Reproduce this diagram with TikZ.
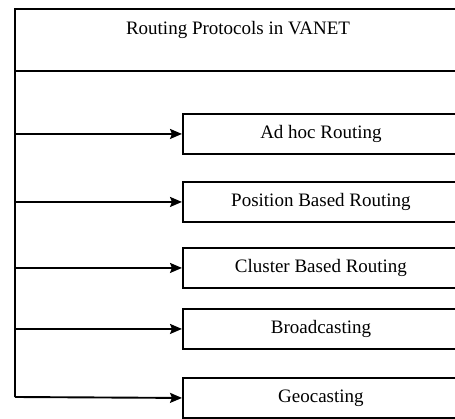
\documentclass[tikz,border=0pt]{standalone}
\usepackage{fontspec}
\setmainfont{Liberation Serif}
\usetikzlibrary{arrows.meta}
\begin{document}
\begin{tikzpicture}[x=1pt,y=-1pt,
  box/.style={draw, line width=1.9pt, rectangle, inner sep=0pt, anchor=north west},
  child/.style={box, minimum width=276pt, minimum height=40pt, font=\fontsize{19}{21}\selectfont},
  conn/.style={line width=1.9pt},
  arr/.style={conn, -{Stealth[length=12pt,width=10pt,inset=2pt]}}]
\useasboundingbox (0,0) rectangle (455,419);
\clip (0,0) rectangle (455,419);
\node[box, minimum width=448pt, minimum height=62pt] (top) at (14,8) {};
\node[font=\fontsize{19}{21}\selectfont] (toptext) at (238,30) {Routing Protocols in VANET};
\node[child] (c1) at (182,113) {Ad hoc Routing};
\node[child] (c2) at (182,181) {Position Based Routing};
\node[child] (c3) at (182,247) {Cluster Based Routing};
\node[child] (c4) at (182,308) {Broadcasting};
\node[child] (c5) at (182,377) {Geocasting};
\coordinate (trunktop) at (15,70);
\coordinate (trunkbot) at (15,397);
\draw[conn] (trunktop) -- (trunkbot);
\draw[arr] (trunkbot) -- (c5.west);
\foreach \i in {1,2,3,4}{
  \draw[arr] (c\i.west -| trunktop) -- (c\i.west);
}
\end{tikzpicture}
\end{document}
